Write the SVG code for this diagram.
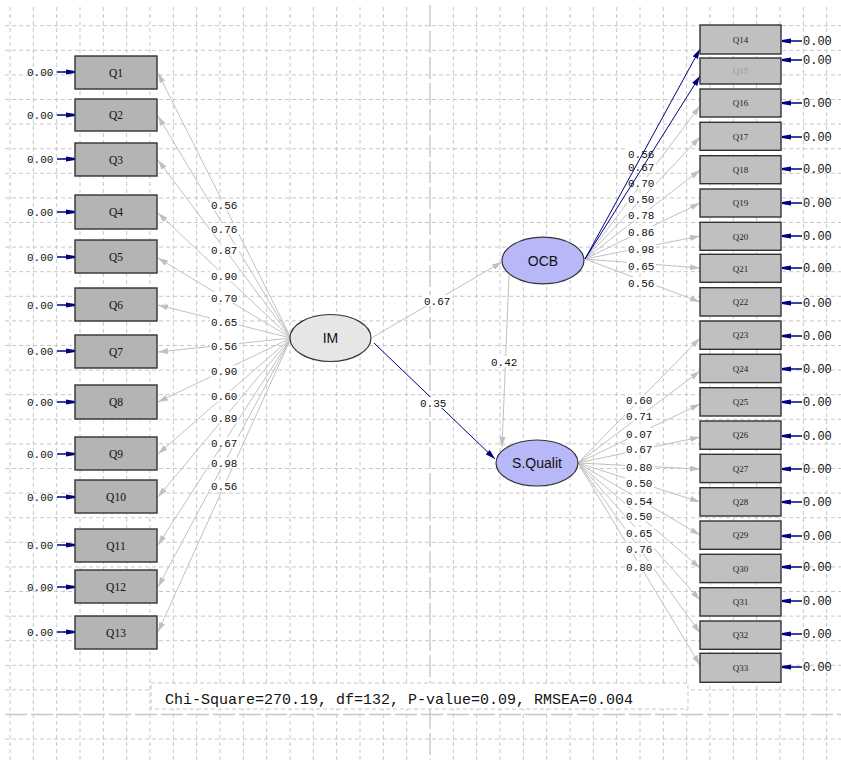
<svg xmlns="http://www.w3.org/2000/svg" width="841" height="760" viewBox="0 0 841 760">
<style>
.grid{stroke:#c8c8c8;stroke-width:1;fill:none;stroke-dasharray:4 3}
.axis{stroke:#c8c8c8;stroke-width:1.4;fill:none;stroke-dasharray:22 4}
.bl{fill:#b4b4b4;stroke:#333;stroke-width:1.4}
.br{fill:#c0c0c0;stroke:#333;stroke-width:1.4}
.tl{font-family:"Liberation Serif",serif;font-size:11.5px;fill:#111;text-anchor:middle}
.tr{font-family:"Liberation Serif",serif;font-size:9px;fill:#222;text-anchor:middle}
.g{stroke:#c0c0c0;stroke-width:1;fill:none;marker-end:url(#ag)}
.n{stroke:#000080;stroke-width:1;fill:none;marker-end:url(#an)}
.e{stroke:#000080;stroke-width:1.5;fill:none;marker-end:url(#ae)}
.num{font-family:"Liberation Mono",monospace;font-size:11px;fill:#111}
.num2{font-family:"Liberation Mono",monospace;font-size:12px;fill:#111}
.lbg{fill:#fff}
.lat{font-family:"Liberation Sans",Arial,sans-serif;font-size:14px;fill:#111;text-anchor:middle}
</style>
<defs>
<marker id="ag" viewBox="0 0 10 6" refX="10" refY="3" markerWidth="10" markerHeight="6" markerUnits="userSpaceOnUse" orient="auto"><path d="M0,0 L10,3 L0,6 z" fill="#c0c0c0"/></marker>
<marker id="an" viewBox="0 0 10 6" refX="10" refY="3" markerWidth="10" markerHeight="6" markerUnits="userSpaceOnUse" orient="auto"><path d="M0,0 L10,3 L0,6 z" fill="#000080"/></marker>
<marker id="ae" viewBox="0 0 9 6" refX="9" refY="3" markerWidth="9" markerHeight="6" markerUnits="userSpaceOnUse" orient="auto"><path d="M0,0.5 L9,2 L9,4 L0,5.5 z" fill="#000080"/></marker>
</defs>
<rect width="841" height="760" fill="#fff"/>
<g id="grid">
<path class="grid" d="M10 7V760M33.33 7V760M56.67 7V760M80 7V760M103.33 7V760M126.67 7V760M150 7V760M173.33 7V760M196.67 7V760M220 7V760M243.33 7V760M266.67 7V760M290 7V760M313.33 7V760M336.67 7V760M360 7V760M383.33 7V760M406.67 7V760M453.33 7V760M476.67 7V760M500 7V760M523.33 7V760M546.67 7V760M570 7V760M593.33 7V760M616.67 7V760M640 7V760M663.33 7V760M686.67 7V760M710 7V760M733.33 7V760M756.67 7V760M780 7V760M803.33 7V760M826.67 7V760"/>
<path class="grid" d="M5 25.7H841M5 50.3H841M5 74.9H841M5 99.5H841M5 124.1H841M5 148.7H841M5 173.3H841M5 197.9H841M5 222.5H841M5 247.1H841M5 271.7H841M5 296.3H841M5 320.9H841M5 345.5H841M5 370.1H841M5 394.7H841M5 419.3H841M5 443.9H841M5 468.5H841M5 493.1H841M5 517.7H841M5 542.3H841M5 566.9H841M5 591.5H841M5 616.1H841M5 640.7H841M5 665.3H841M5 689.9H841M5 739.1H841"/>
<path class="axis" d="M430 5V760M5 714.5H841"/>
</g>
<g id="fit">
<rect x="151" y="683" width="537" height="26" fill="#fff" stroke="#c8c8c8" stroke-dasharray="4 3"/>
<text x="165" y="704" font-family="Liberation Mono,monospace" font-size="15" fill="#111">Chi-Square=270.19, df=132, P-value=0.09, RMSEA=0.004</text>
</g>
<g id="connectors">
<path class="g" d="M291 338L158 73"/>
<path class="g" d="M291 338L158 116"/>
<path class="g" d="M291 338L158 160"/>
<path class="g" d="M291 338L158 213"/>
<path class="g" d="M291 338L158 258"/>
<path class="g" d="M291 338L158 305"/>
<path class="g" d="M291 338L158 352"/>
<path class="g" d="M291 338L158 402"/>
<path class="g" d="M291 338L158 454"/>
<path class="g" d="M291 338L158 497"/>
<path class="g" d="M291 338L158 545"/>
<path class="g" d="M291 338L158 587"/>
<path class="g" d="M291 338L158 632"/>
<path class="g" d="M585 259L700 106"/>
<path class="g" d="M585 259L700 137"/>
<path class="g" d="M585 259L700 170"/>
<path class="g" d="M585 259L700 203"/>
<path class="g" d="M585 259L700 236"/>
<path class="g" d="M585 259L700 268"/>
<path class="g" d="M585 259L700 302"/>
<path class="g" d="M578 463L700 338"/>
<path class="g" d="M578 463L700 371"/>
<path class="g" d="M578 463L700 404"/>
<path class="g" d="M578 463L700 437"/>
<path class="g" d="M578 463L700 469"/>
<path class="g" d="M578 463L700 502"/>
<path class="g" d="M578 463L700 535"/>
<path class="g" d="M578 463L700 568"/>
<path class="g" d="M578 463L700 600"/>
<path class="g" d="M578 463L700 633"/>
<path class="g" d="M578 463L700 665"/>
<path class="g" d="M373 337L502 262"/>
<path class="g" d="M509 275L502 447"/>
<path class="n" d="M374 343L495 459"/>
<g id="labels">
<rect class="lbg" x="210" y="199.5" width="29" height="11"/><text class="num" x="211" y="209">0.56</text>
<rect class="lbg" x="210" y="223" width="29" height="11"/><text class="num" x="211" y="232.5">0.76</text>
<rect class="lbg" x="210" y="244.5" width="29" height="11"/><text class="num" x="211" y="254">0.87</text>
<rect class="lbg" x="210" y="270" width="29" height="11"/><text class="num" x="211" y="279.5">0.90</text>
<rect class="lbg" x="210" y="292" width="29" height="11"/><text class="num" x="211" y="301.5">0.70</text>
<rect class="lbg" x="210" y="316" width="29" height="11"/><text class="num" x="211" y="325.5">0.65</text>
<rect class="lbg" x="210" y="340.5" width="29" height="11"/><text class="num" x="211" y="350">0.56</text>
<rect class="lbg" x="210" y="365.5" width="29" height="11"/><text class="num" x="211" y="375">0.90</text>
<rect class="lbg" x="210" y="390.5" width="29" height="11"/><text class="num" x="211" y="400">0.60</text>
<rect class="lbg" x="210" y="412.5" width="29" height="11"/><text class="num" x="211" y="422">0.89</text>
<rect class="lbg" x="210" y="437" width="29" height="11"/><text class="num" x="211" y="446.5">0.67</text>
<rect class="lbg" x="210" y="457.5" width="29" height="11"/><text class="num" x="211" y="467">0.98</text>
<rect class="lbg" x="210" y="480.5" width="29" height="11"/><text class="num" x="211" y="490">0.56</text>
<rect class="lbg" x="423" y="295" width="29" height="11"/><text class="num" x="424" y="304.5">0.67</text>
<rect class="lbg" x="490" y="356" width="29" height="11"/><text class="num" x="491" y="365.5">0.42</text>
<rect class="lbg" x="419" y="397" width="29" height="11"/><text class="num" x="420" y="406.5">0.35</text>
<rect class="lbg" x="627" y="148" width="29" height="11"/><text class="num" x="628" y="157.5">0.56</text>
<rect class="lbg" x="627" y="161.5" width="29" height="11"/><text class="num" x="628" y="171">0.67</text>
<rect class="lbg" x="627" y="177" width="29" height="11"/><text class="num" x="628" y="186.5">0.70</text>
<rect class="lbg" x="627" y="193.5" width="29" height="11"/><text class="num" x="628" y="203">0.50</text>
<rect class="lbg" x="627" y="209.5" width="29" height="11"/><text class="num" x="628" y="219">0.78</text>
<rect class="lbg" x="627" y="226" width="29" height="11"/><text class="num" x="628" y="235.5">0.86</text>
<rect class="lbg" x="627" y="243" width="29" height="11"/><text class="num" x="628" y="252.5">0.98</text>
<rect class="lbg" x="627" y="260" width="29" height="11"/><text class="num" x="628" y="269.5">0.65</text>
<rect class="lbg" x="627" y="277" width="29" height="11"/><text class="num" x="628" y="286.5">0.56</text>
<rect class="lbg" x="625" y="394.5" width="29" height="11"/><text class="num" x="626" y="404">0.60</text>
<rect class="lbg" x="625" y="410.5" width="29" height="11"/><text class="num" x="626" y="420">0.71</text>
<rect class="lbg" x="625" y="428" width="29" height="11"/><text class="num" x="626" y="437.5">0.07</text>
<rect class="lbg" x="625" y="443" width="29" height="11"/><text class="num" x="626" y="452.5">0.67</text>
<rect class="lbg" x="625" y="461" width="29" height="11"/><text class="num" x="626" y="470.5">0.80</text>
<rect class="lbg" x="625" y="477" width="29" height="11"/><text class="num" x="626" y="486.5">0.50</text>
<rect class="lbg" x="625" y="495" width="29" height="11"/><text class="num" x="626" y="504.5">0.54</text>
<rect class="lbg" x="625" y="510" width="29" height="11"/><text class="num" x="626" y="519.5">0.50</text>
<rect class="lbg" x="625" y="527" width="29" height="11"/><text class="num" x="626" y="536.5">0.65</text>
<rect class="lbg" x="625" y="543" width="29" height="11"/><text class="num" x="626" y="552.5">0.76</text>
<rect class="lbg" x="625" y="561" width="29" height="11"/><text class="num" x="626" y="570.5">0.80</text>
</g>
<path class="n" d="M585 259L700 49"/>
<path class="n" d="M585 259L700 76"/>
<path class="e" d="M57 72H75"/><path class="e" d="M57 115H75"/><path class="e" d="M57 159H75"/><path class="e" d="M57 212H75"/><path class="e" d="M57 257H75"/><path class="e" d="M57 305H75"/><path class="e" d="M57 351H75"/><path class="e" d="M57 402H75"/><path class="e" d="M57 454H75"/><path class="e" d="M57 497H75"/><path class="e" d="M57 545H75"/><path class="e" d="M57 587H75"/><path class="e" d="M57 632H75"/>
<path class="e" d="M802 41H782"/><path class="e" d="M802 60H782"/><path class="e" d="M802 103H782"/><path class="e" d="M802 137H782"/><path class="e" d="M802 169H782"/><path class="e" d="M802 203H782"/><path class="e" d="M802 236H782"/><path class="e" d="M802 268H782"/><path class="e" d="M802 303H782"/><path class="e" d="M802 336H782"/><path class="e" d="M802 369H782"/><path class="e" d="M802 402H782"/><path class="e" d="M802 436H782"/><path class="e" d="M802 469H782"/><path class="e" d="M802 502H782"/><path class="e" d="M802 536H782"/><path class="e" d="M802 567H782"/><path class="e" d="M802 601H782"/><path class="e" d="M802 634H782"/><path class="e" d="M802 667H782"/>
</g>
<g id="errors-text">
<text class="num" x="27" y="76">0.00</text>
<text class="num" x="27" y="119">0.00</text>
<text class="num" x="27" y="163">0.00</text>
<text class="num" x="27" y="216">0.00</text>
<text class="num" x="27" y="261">0.00</text>
<text class="num" x="27" y="309">0.00</text>
<text class="num" x="27" y="355">0.00</text>
<text class="num" x="27" y="406">0.00</text>
<text class="num" x="27" y="458">0.00</text>
<text class="num" x="27" y="501">0.00</text>
<text class="num" x="27" y="549">0.00</text>
<text class="num" x="27" y="591">0.00</text>
<text class="num" x="27" y="636">0.00</text>
<text class="num2" x="803" y="45">0.00</text>
<text class="num2" x="803" y="64">0.00</text>
<text class="num2" x="803" y="107">0.00</text>
<text class="num2" x="803" y="141">0.00</text>
<text class="num2" x="803" y="173">0.00</text>
<text class="num2" x="803" y="207">0.00</text>
<text class="num2" x="803" y="240">0.00</text>
<text class="num2" x="803" y="272">0.00</text>
<text class="num2" x="803" y="307">0.00</text>
<text class="num2" x="803" y="340">0.00</text>
<text class="num2" x="803" y="373">0.00</text>
<text class="num2" x="803" y="406">0.00</text>
<text class="num2" x="803" y="440">0.00</text>
<text class="num2" x="803" y="473">0.00</text>
<text class="num2" x="803" y="506">0.00</text>
<text class="num2" x="803" y="540">0.00</text>
<text class="num2" x="803" y="571">0.00</text>
<text class="num2" x="803" y="605">0.00</text>
<text class="num2" x="803" y="638">0.00</text>
<text class="num2" x="803" y="671">0.00</text>
</g>
<g id="IM"><ellipse cx="330.5" cy="338" rx="40.5" ry="23.5" fill="#e6e6e6" stroke="#333" stroke-width="1.2"/><text class="lat" x="330.5" y="343">IM</text></g>
<g id="OCB"><ellipse cx="543" cy="260.5" rx="41" ry="23.3" fill="#b8b8f8" stroke="#333" stroke-width="1.2"/><text class="lat" x="543" y="265.5">OCB</text></g>
<g id="SQualit"><ellipse cx="537" cy="463" rx="41" ry="23" fill="#b8b8f8" stroke="#333" stroke-width="1.2"/><text class="lat" x="537" y="468">S.Qualit</text></g>
<g id="Q1"><rect class="bl" x="75" y="56" width="82" height="33"/><text class="tl" x="116" y="76.5">Q1</text></g>
<g id="Q2"><rect class="bl" x="75" y="99" width="82" height="32"/><text class="tl" x="116" y="119">Q2</text></g>
<g id="Q3"><rect class="bl" x="75" y="143" width="82" height="33"/><text class="tl" x="116" y="163.5">Q3</text></g>
<g id="Q4"><rect class="bl" x="75" y="195" width="82" height="34"/><text class="tl" x="116" y="216">Q4</text></g>
<g id="Q5"><rect class="bl" x="75" y="240" width="82" height="33"/><text class="tl" x="116" y="260.5">Q5</text></g>
<g id="Q6"><rect class="bl" x="75" y="288" width="82" height="33"/><text class="tl" x="116" y="308.5">Q6</text></g>
<g id="Q7"><rect class="bl" x="75" y="335" width="82" height="33"/><text class="tl" x="116" y="355.5">Q7</text></g>
<g id="Q8"><rect class="bl" x="75" y="385" width="82" height="34"/><text class="tl" x="116" y="406">Q8</text></g>
<g id="Q9"><rect class="bl" x="75" y="437" width="82" height="33"/><text class="tl" x="116" y="457.5">Q9</text></g>
<g id="Q10"><rect class="bl" x="75" y="480" width="82" height="33"/><text class="tl" x="116" y="500.5">Q10</text></g>
<g id="Q11"><rect class="bl" x="75" y="529" width="82" height="33"/><text class="tl" x="116" y="549.5">Q11</text></g>
<g id="Q12"><rect class="bl" x="75" y="570" width="82" height="33"/><text class="tl" x="116" y="590.5">Q12</text></g>
<g id="Q13"><rect class="bl" x="75" y="616" width="82" height="33"/><text class="tl" x="116" y="636.5">Q13</text></g>
<g id="Q14"><rect class="br" x="700" y="25" width="81" height="29"/><text class="tr" x="740.5" y="42.5">Q14</text></g>
<g id="Q15"><rect class="br" x="700" y="58" width="81" height="26"/><text class="tr" x="740.5" y="74" style="fill:#9a9a9a">Q15</text></g>
<g id="Q16"><rect class="br" x="700" y="89" width="81" height="28"/><text class="tr" x="740.5" y="106">Q16</text></g>
<g id="Q17"><rect class="br" x="700" y="122.3" width="81" height="28"/><text class="tr" x="740.5" y="139.5">Q17</text></g>
<g id="Q18"><rect class="br" x="700" y="155.7" width="81" height="28"/><text class="tr" x="740.5" y="172.8">Q18</text></g>
<g id="Q19"><rect class="br" x="700" y="189" width="81" height="28"/><text class="tr" x="740.5" y="206">Q19</text></g>
<g id="Q20"><rect class="br" x="700" y="222.3" width="81" height="28"/><text class="tr" x="740.5" y="239.5">Q20</text></g>
<g id="Q21"><rect class="br" x="700" y="254.3" width="81" height="28"/><text class="tr" x="740.5" y="271.5">Q21</text></g>
<g id="Q22"><rect class="br" x="700" y="287.7" width="81" height="28.3"/><text class="tr" x="740.5" y="305">Q22</text></g>
<g id="Q23"><rect class="br" x="700" y="321" width="81" height="28.3"/><text class="tr" x="740.5" y="338.3">Q23</text></g>
<g id="Q24"><rect class="br" x="700" y="354.3" width="81" height="28.3"/><text class="tr" x="740.5" y="371.6">Q24</text></g>
<g id="Q25"><rect class="br" x="700" y="387.7" width="81" height="28.3"/><text class="tr" x="740.5" y="405">Q25</text></g>
<g id="Q26"><rect class="br" x="700" y="421" width="81" height="28.3"/><text class="tr" x="740.5" y="438.3">Q26</text></g>
<g id="Q27"><rect class="br" x="700" y="454.3" width="81" height="28.3"/><text class="tr" x="740.5" y="471.6">Q27</text></g>
<g id="Q28"><rect class="br" x="700" y="487.7" width="81" height="28.3"/><text class="tr" x="740.5" y="505">Q28</text></g>
<g id="Q29"><rect class="br" x="700" y="521" width="81" height="28.3"/><text class="tr" x="740.5" y="538.3">Q29</text></g>
<g id="Q30"><rect class="br" x="700" y="554.3" width="81" height="28.3"/><text class="tr" x="740.5" y="571.6">Q30</text></g>
<g id="Q31"><rect class="br" x="700" y="587.7" width="81" height="28.3"/><text class="tr" x="740.5" y="605">Q31</text></g>
<g id="Q32"><rect class="br" x="700" y="621" width="81" height="28.3"/><text class="tr" x="740.5" y="638.3">Q32</text></g>
<g id="Q33"><rect class="br" x="700" y="653.3" width="81" height="29"/><text class="tr" x="740.5" y="671">Q33</text></g>
</svg>
